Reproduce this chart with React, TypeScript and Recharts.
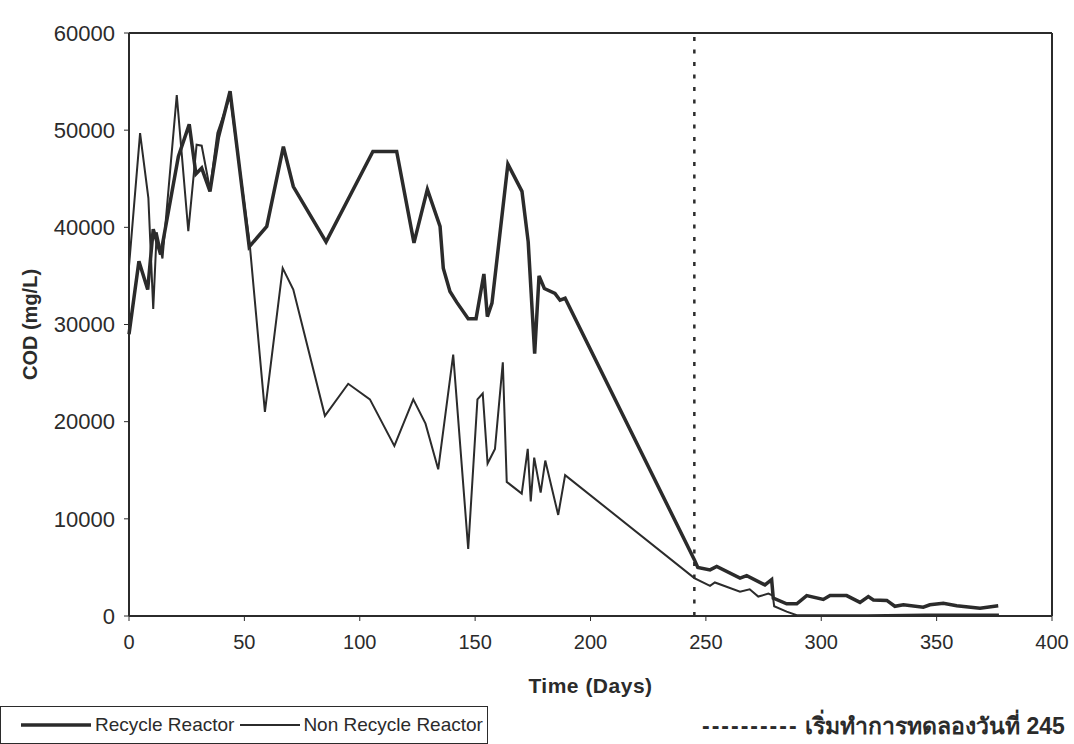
import React from "react";
import { LineChart, Line, XAxis, YAxis, ReferenceLine } from "recharts";

// COD readings (day, mg/L)
const recycleDays = [
  0, 4.3, 8.1, 10.5, 13.7, 21.4, 26.1, 29, 31.5, 35.1, 38.7, 43.8, 52.1, 59.7, 66.9, 71.2, 85.4,
  105.7, 116, 123.5, 129.3, 134.8, 136.2, 139.1, 142, 147, 150.4, 153.8, 155.3, 157.3, 164.2,
  170.3, 173, 175.8, 177.7, 180, 184.6, 186.8, 189, 245, 246.5, 251.8, 254.7, 264.8, 267.7,
  275.6, 278.5, 279.2, 285, 289.4, 293.7, 300.9, 303.8, 311, 316.8, 320.4, 322.6, 328.4, 331.9,
  335.6, 344.2, 347.1, 352.9, 358.7, 368.8, 376.7,
];
const recycleCod = [
  29000, 36500, 33600, 39800, 37200, 47300, 50600, 45500, 46100, 43700, 49200, 54000, 38000,
  40100, 48300, 44200, 38500, 47800, 47800, 38400, 43900, 40100, 35800, 33400, 32300, 30600,
  30600, 35200, 30800, 32200, 46500, 43700, 38500, 27000, 35000, 33700, 33200, 32500, 32700,
  5800, 5000, 4750, 5100, 3900, 4150, 3200, 3750, 1850, 1250, 1250, 2100, 1700, 2100, 2100, 1400,
  2000, 1650, 1600, 1000, 1150, 900, 1150, 1300, 1050, 800, 1050,
];

const nonRecycleDays = [
  0, 4.8, 8.4, 10.5, 12, 14.5, 20.7, 25.7, 29.3, 31.5, 35.1, 38.3, 43.8, 52.3, 58.9, 66.6, 71.2,
  84.9, 95, 104.4, 115, 123.2, 128.5, 134, 140.5, 147, 151, 153.3, 155.4, 158.6, 162, 163.7,
  170.2, 172.8, 174.1, 175.6, 178.4, 180.4, 186, 189, 245, 251.8, 253.9, 264.8, 269, 272.7, 277.1,
  279, 279.6, 285, 289.4, 320, 345, 377,
];
const nonRecycleCod = [
  36000, 49700, 43000, 31600, 39500, 36800, 53600, 39600, 48500, 48400, 43900, 49700, 53500,
  38300, 21000, 35800, 33600, 20600, 23900, 22300, 17500, 22300, 19800, 15100, 26900, 6900, 22300,
  22900, 15700, 17200, 26100, 13800, 12600, 17200, 11800, 16300, 12700, 16000, 10400, 14500, 3900,
  3100, 3450, 2500, 2750, 2000, 2300, 2100, 1000, 450, 80, 80, 150, 150,
];

const xTicks = [0, 50, 100, 150, 200, 250, 300, 350, 400];
const yTicks = [0, 10000, 20000, 30000, 40000, 50000, 60000];
const startDay = 245;

const recycleData = recycleDays.map((d, i) => ({ day: d, cod: recycleCod[i] }));
const nonRecycleData = nonRecycleDays.map((d, i) => ({ day: d, cod: nonRecycleCod[i] }));

const ink = "#2b2b2b";
const sans = "'Liberation Sans', Arial, sans-serif";

function LegendBox() {
  return (
    <>
      <div
        style={{
          position: "absolute",
          left: 0,
          top: 706,
          width: 488,
          height: 38,
          border: `1px solid ${ink}`,
          boxSizing: "border-box",
          display: "flex",
          alignItems: "center",
          fontFamily: sans,
          fontSize: 19,
          color: ink,
          whiteSpace: "nowrap",
        }}
      >
        <svg width={70} height={10} style={{ marginLeft: 20, flexShrink: 0 }}>
          <line x1={0} y1={5} x2={70} y2={5} stroke={ink} strokeWidth={3.5} />
        </svg>
        <span style={{ marginLeft: 4 }}>Recycle Reactor</span>
        <svg width={60} height={10} style={{ marginLeft: 6, flexShrink: 0 }}>
          <line x1={0} y1={5} x2={60} y2={5} stroke={ink} strokeWidth={2} />
        </svg>
        <span style={{ marginLeft: 3 }}>Non Recycle Reactor</span>
      </div>
      <div
        style={{
          position: "absolute",
          left: 702,
          top: 708,
          fontFamily: sans,
          fontSize: 23,
          fontWeight: "bold",
          color: ink,
          whiteSpace: "nowrap",
        }}
      >
        <span style={{ letterSpacing: 2 }}>----------</span> เริ่มทำการทดลองวันที่ {startDay}
      </div>
    </>
  );
}

export default function App() {
  return (
    <div style={{ position: "absolute", left: 0, top: 0, width: 1074, height: 744, background: "#fff" }}>
      <LineChart width={1074} height={744} margin={{ top: 33, right: 22, left: 0, bottom: 46 }}>
        <XAxis
          dataKey="day"
          type="number"
          domain={[0, 400]}
          ticks={xTicks}
          allowDuplicatedCategory={false}
          height={82}
          tickSize={5}
          tickMargin={14}
          axisLine={{ stroke: ink, strokeWidth: 2 }}
          tickLine={{ stroke: ink }}
          tick={{ fill: ink, fontSize: 20, fontFamily: sans }}
          label={{
            value: "Time (Days)",
            position: "insideBottom",
            offset: 5,
            style: { fill: ink, fontSize: 21, fontWeight: "bold", fontFamily: sans, letterSpacing: 0.5 },
          }}
        />
        <YAxis
          dataKey="cod"
          type="number"
          domain={[0, 60000]}
          ticks={yTicks}
          width={129}
          tickSize={5}
          tickMargin={9}
          axisLine={{ stroke: ink, strokeWidth: 2 }}
          tickLine={{ stroke: ink }}
          tick={{ fill: ink, fontSize: 22, fontFamily: sans }}
          label={{
            value: "COD (mg/L)",
            angle: -90,
            position: "insideLeft",
            offset: 30,
            style: { textAnchor: "middle", fill: ink, fontSize: 20, fontWeight: "bold", fontFamily: sans },
          }}
        />
        <ReferenceLine y={60000} stroke={ink} strokeWidth={2} />
        <ReferenceLine x={400} stroke={ink} strokeWidth={2} />
        <ReferenceLine x={startDay} stroke={ink} strokeWidth={2.5} strokeDasharray="4 8.5" />
        <Line
          data={nonRecycleData}
          dataKey="cod"
          type="linear"
          stroke={ink}
          strokeWidth={2}
          dot={false}
          isAnimationActive={false}
        />
        <Line
          data={recycleData}
          dataKey="cod"
          type="linear"
          stroke={ink}
          strokeWidth={3.5}
          dot={false}
          isAnimationActive={false}
        />
      </LineChart>
      <LegendBox />
    </div>
  );
}
